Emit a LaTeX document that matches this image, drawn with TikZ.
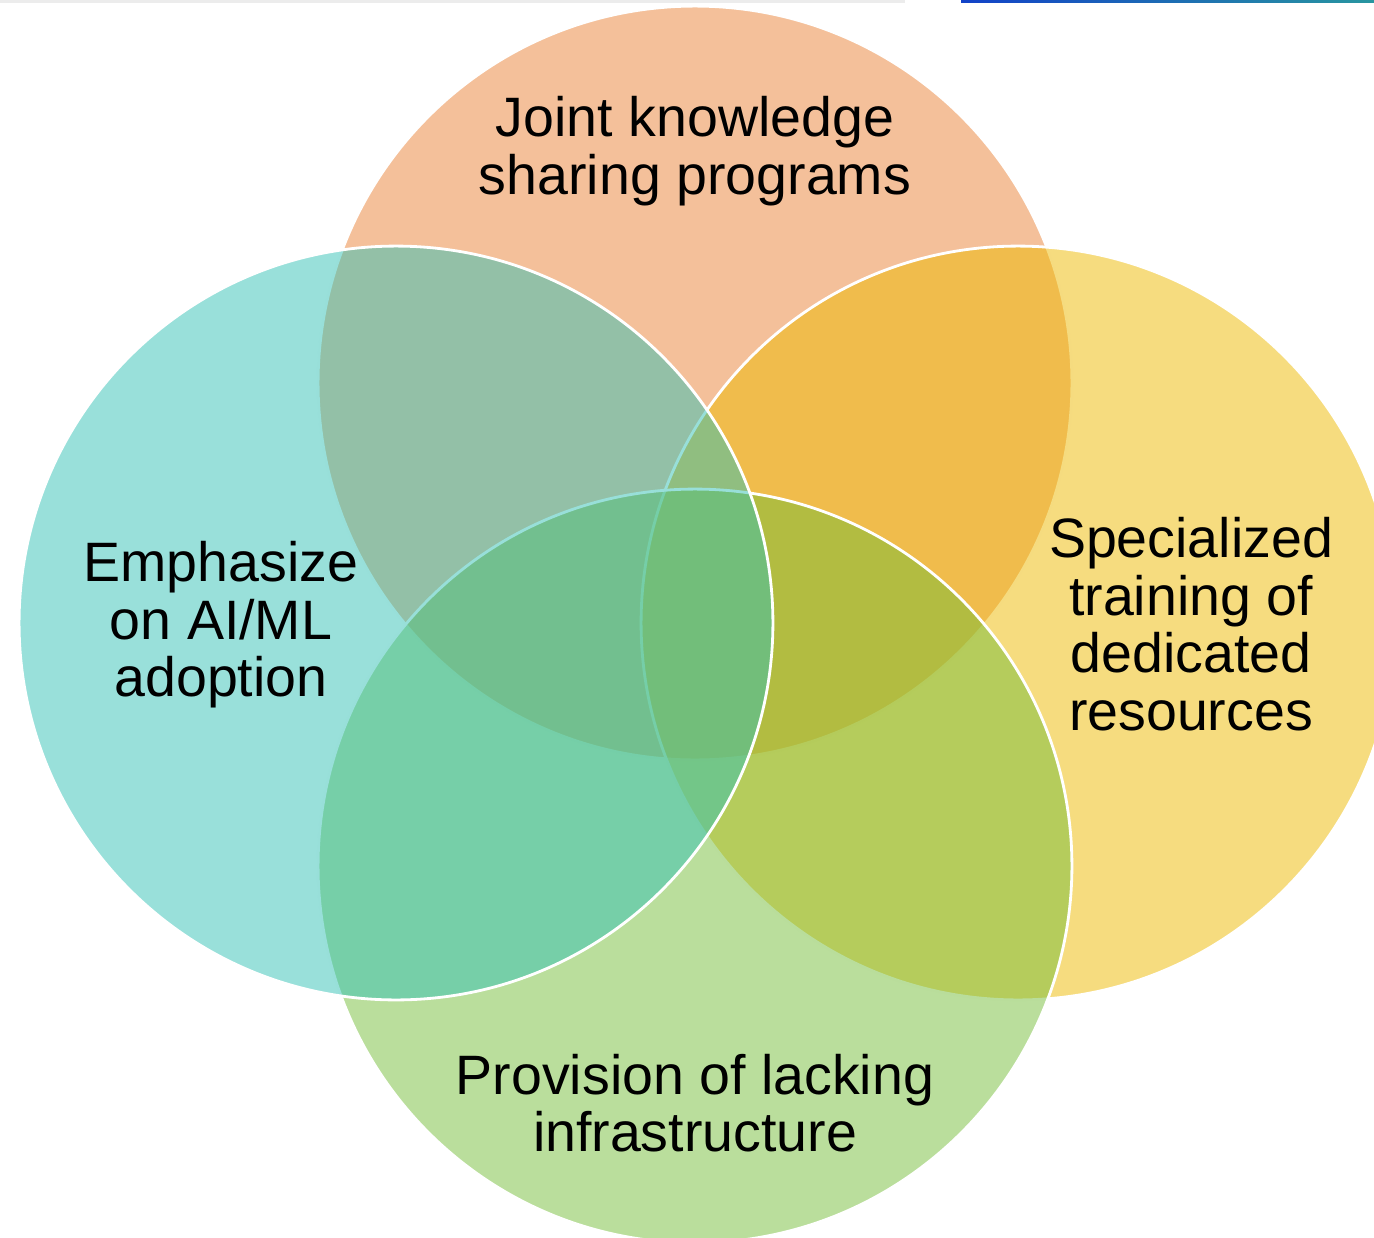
\documentclass[tikz,border=0pt]{standalone}
\usepackage{fontspec}
\setmainfont{Liberation Sans}
\usepackage{xcolor}
\usepackage{tikz}
\usetikzlibrary{positioning,calc}

\definecolor{topC}{RGB}{233,129,53}
\definecolor{rightC}{RGB}{237,185,0}
\definecolor{bottomC}{RGB}{117,189,57}
\definecolor{leftC}{RGB}{51,193,181}
\definecolor{rimgray}{RGB}{236,236,236}
\definecolor{rimblueA}{RGB}{18,66,200}
\definecolor{rimblueB}{RGB}{40,150,160}

\tikzset{
  venn/.style={circle,draw=white,line width=1.6pt,minimum size=15.08cm,inner sep=0pt,fill opacity=0.5},
  lbl/.style={align=center,font=\fontsize{31.6}{32.8}\selectfont,text=black}
}

\begin{document}
\begin{tikzpicture}[x=0.02cm,y=-0.02cm]
    \useasboundingbox (0,0) rectangle (1374,1238);
    \begin{scope}
      \clip (0,0) rectangle (1374,1238);
      % circles, drawn top, right, bottom, left
      \foreach \nm/\cx/\cy/\col in {top/695/383/topC,right/1018/623/rightC,bottom/695/866/bottomC,left/396/623/leftC} {
        \node[venn,fill=\col] (\nm) at (\cx,\cy) {};
      }
      % strip along the upper edge
      \fill[rimgray] (0,0) rectangle (905,2.5);
      \shade[left color=rimblueA,right color=rimblueB] (961,0) rectangle (1374,2.5);
    \end{scope}
    \node[lbl] (topL) at (695,151) {Joint knowledge\\sharing programs};
    \node[lbl] (leftL) at (221,625) {Emphasize\\on AI/ML\\adoption};
    \node[lbl] (rightL) at (1191,624) {Specialized\\training of\\dedicated\\resources};
    \node[lbl] (bottomL) at (695,1103) {Provision of lacking\\infrastructure};
  \end{tikzpicture}
\end{document}
